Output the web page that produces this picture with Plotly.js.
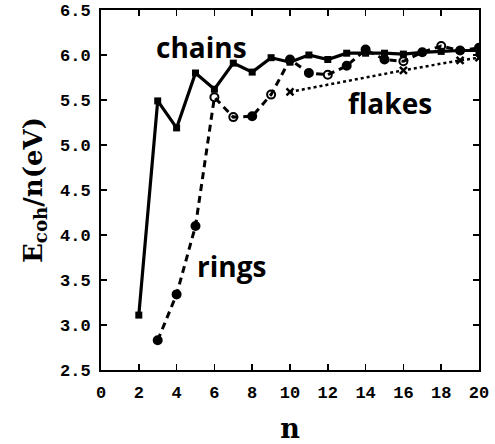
<!DOCTYPE html>
<html><head><meta charset="utf-8">
<script src="https://cdn.plot.ly/plotly-3.0.1.min.js"></script>
<style>html,body{margin:0;padding:0;background:#fff}#plot{width:495px;height:444px}</style>
</head><body><div id="plot"></div>
<script>
var chainsN = [2,3,4,5,6,7,8,9,10,11,12,13,14,15,16,17,18,19,20];
var chainsE = [3.11,5.49,5.19,5.80,5.62,5.91,5.81,5.97,5.92,6.00,5.95,6.02,6.02,6.02,6.01,6.03,6.04,6.05,6.05];
var ringsN = [3,4,5,6,7,8,9,10,11,12,13,14,15,16,17,18,19,20];
var ringsE = [2.83,3.34,4.10,5.53,5.31,5.32,5.56,5.95,5.80,5.78,5.88,6.06,5.95,5.93,6.03,6.10,6.05,6.08];
var ringsHollow = [false,false,false,true,true,false,true,false,false,true,false,false,false,true,false,true,false,false];
var flakesN = [10,16,19,20];
var flakesE = [5.59,5.83,5.94,5.97];
var xTicks = [0,2,4,6,8,10,12,14,16,18,20];
var yTicks = [2.5,3.0,3.5,4.0,4.5,5.0,5.5,6.0,6.5];
var labels = [{text:'chains', n:5.3, e:6.09},{text:'rings', n:6.9, e:3.66},{text:'flakes', n:15.3, e:5.47}];

var traces = [
  {x:chainsN, y:chainsE, mode:'lines+markers', line:{color:'#000', width:3.2},
   marker:{symbol:'square', size:7, color:'#000'}},
  {x:ringsN, y:ringsE, mode:'lines+markers', line:{color:'#000', width:3, dash:'7px,5px'},
   marker:{symbol:ringsHollow.map(function(h){return h?'circle-open':'circle';}), size:8, color:'#000', line:{width:2,color:'#000'}}},
  {x:flakesN, y:flakesE, mode:'lines+markers', line:{color:'#000', width:2.5, dash:'dot'},
   marker:{symbol:'x-thin-open', size:7, color:'#000', line:{width:2.5,color:'#000'}}}
];

var tickFont = {family:'Liberation Mono, Courier New, monospace', size:17, color:'#000', weight:'bold'};
var layout = {
  width:495, height:444,
  margin:{l:101, r:16, t:10, b:74},
  paper_bgcolor:'#fff', plot_bgcolor:'#fff',
  showlegend:false,
  xaxis:{range:[0,20], tickvals:xTicks, ticktext:xTicks.map(String), ticks:'inside', ticklen:6, tickwidth:1.5,
    tickcolor:'#000', showline:true, linecolor:'#000', linewidth:2, mirror:'ticks', showgrid:false, zeroline:false,
    tickfont:tickFont, ticklabelstandoff:6,
    title:{text:'n', font:{family:'DejaVu Serif, Liberation Serif, serif', size:27, color:'#000', weight:'bold'}, standoff:18}},
  yaxis:{range:[2.5,6.5], tickvals:yTicks, ticktext:yTicks.map(function(v){return v.toFixed(1);}), ticks:'inside', ticklen:6, tickwidth:1.5,
    tickcolor:'#000', showline:true, linecolor:'#000', linewidth:2, mirror:'ticks', showgrid:false, zeroline:false,
    tickfont:tickFont, ticklabelstandoff:5,
    title:{text:'E<sub>coh</sub>/n(eV)', font:{family:'DejaVu Serif, Liberation Serif, serif', size:26, color:'#000', weight:'bold'}, standoff:10}},
  annotations: labels.map(function(l){return {x:l.n, y:l.e, xref:'x', yref:'y', text:l.text, showarrow:false,
    font:{family:'Open Sans, DejaVu Sans, sans-serif', size:28, color:'#000', weight:'bold'}};})
};
Plotly.newPlot('plot', traces, layout, {staticPlot:true, displayModeBar:false});
</script></body></html>
